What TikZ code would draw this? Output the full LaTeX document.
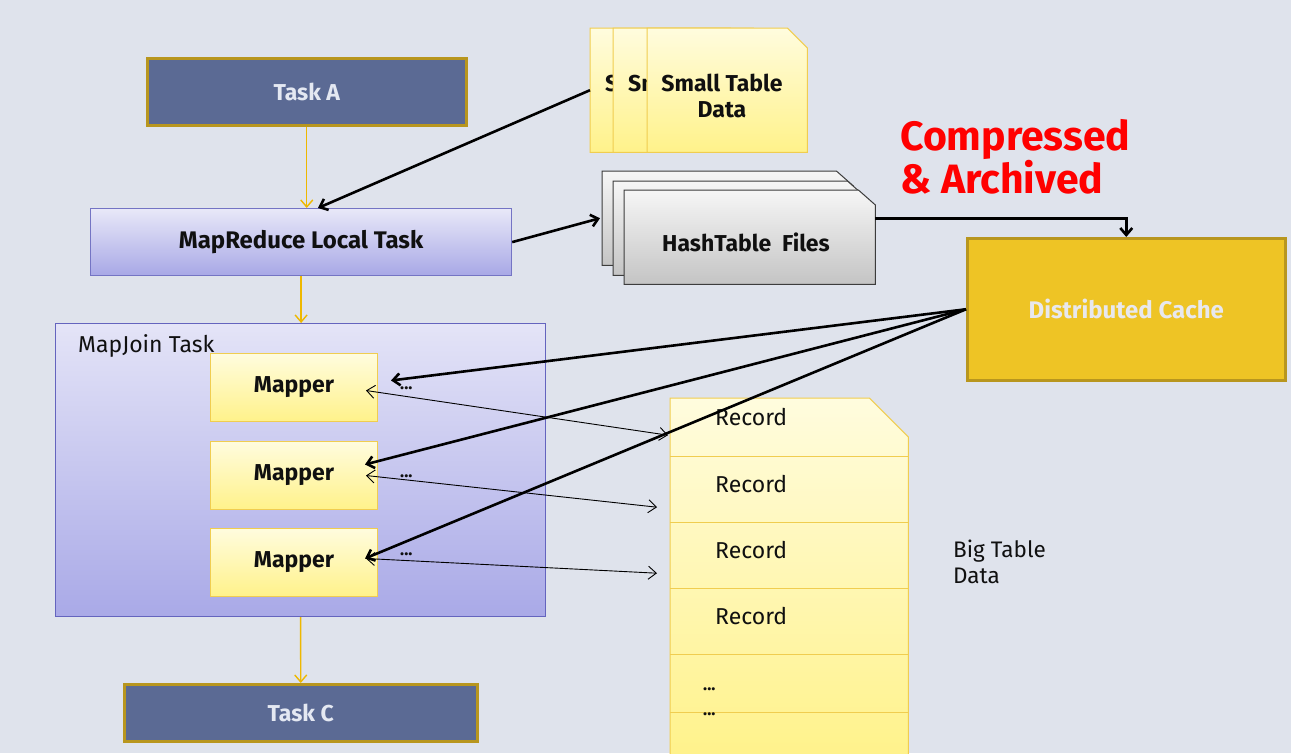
\documentclass[tikz,border=0pt]{standalone}
\usepackage{fontspec}
\setmainfont{Fira Sans}
\usetikzlibrary{arrows.meta,calc}
\definecolor{bgc}{RGB}{223,227,236}
\definecolor{taskfill}{RGB}{91,106,148}
\definecolor{goldb}{RGB}{184,150,30}
\definecolor{tasktxt}{RGB}{228,232,242}
\definecolor{mrtop}{RGB}{232,232,248}
\definecolor{mrbot}{RGB}{168,168,230}
\definecolor{mrline}{RGB}{116,116,196}
\definecolor{mjtop}{RGB}{228,228,247}
\definecolor{mjbot}{RGB}{169,169,231}
\definecolor{mjline}{RGB}{100,100,190}
\definecolor{ytop}{RGB}{255,252,222}
\definecolor{ybot}{RGB}{255,242,138}
\definecolor{yline}{RGB}{240,205,80}
\definecolor{arrowy}{RGB}{238,184,0}
\definecolor{dcfill}{RGB}{238,196,37}
\definecolor{dctxt}{RGB}{232,232,238}
\definecolor{gtop}{RGB}{246,246,246}
\definecolor{gbot}{RGB}{196,196,196}
\definecolor{gline}{RGB}{60,60,60}
\definecolor{redt}{RGB}{255,0,0}
\definecolor{blk}{RGB}{16,16,16}
\newcommand\txtb{\fontsize{23}{26}\selectfont\bfseries}
\newcommand\txtbb{\fontsize{24}{27}\selectfont\bfseries}
\newcommand\txtr{\fontsize{23}{26}\selectfont}
\newcommand\txtd{\fontsize{17}{20}\selectfont\bfseries}
\begin{document}
\begin{tikzpicture}[x=1pt,y=-1pt,
  box/.style={inner sep=0pt, anchor=north west},
  taskbox/.style={box, draw=goldb, line width=2.5pt, fill=taskfill, text=tasktxt, font=\txtb},
  mapbox/.style={box, draw=yline, line width=1pt, top color=ytop, bottom color=ybot, minimum width=167pt, minimum height=68pt, font=\txtb, text=blk},
  ghost/.style={box, minimum width=#1},
  yarrow/.style={draw=arrowy, line width=1.4pt, -{Straight Barb[length=7pt,width=12pt]}},
  barrow/.style={draw=black, line width=2.6pt, -{Straight Barb[length=7pt,width=12pt]}},
  tarrow/.style={draw=black, line width=0.9pt, {Straight Barb[length=8pt,width=13pt]}-{Straight Barb[length=8pt,width=13pt]}},
  smallpage/.style={draw=yline, line width=1pt, top color=ytop, bottom color=ybot},
  hashpage/.style={draw=gline, line width=1pt, top color=gtop, bottom color=gbot},
  lbl/.style={inner sep=0pt, text=blk}
]
\useasboundingbox (0,0) rectangle (1291,753);
\fill[bgc] (0,0) rectangle (1291,753);

% left column
\node[taskbox, minimum width=319pt, minimum height=67pt] (ta) at (146,57) {Task A};
\node[box, draw=mrline, line width=1.2pt, top color=mrtop, bottom color=mrbot,
      minimum width=421pt, minimum height=67pt, font=\txtbb, text=blk] (mr) at (90,208) {MapReduce Local Task};
\node[box, draw=mjline, line width=1.2pt, top color=mjtop, bottom color=mjbot,
      minimum width=490pt, minimum height=293pt] (mj) at (55,323) {};
\node[lbl, anchor=base west, font=\txtr] (mjl) at (78,352) {MapJoin Task};
\node[mapbox] (m1) at (210,353) {Mapper};
\node[mapbox] (m2) at (210,441) {Mapper};
\node[mapbox] (m3) at (210,528) {Mapper};
\node[lbl, anchor=base west, font=\txtd] (d1) at (400,389) {...};
\node[lbl, anchor=base west, font=\txtd] (d2) at (400,477) {...};
\node[lbl, anchor=base west, font=\txtd] (d3) at (400,555) {...};
\node[taskbox, minimum width=353pt, minimum height=57pt] (tc) at (123,683) {Task C};

\draw[yarrow] (ta.south) -- (ta.south |- mr.north);
\draw[yarrow] (mr.south) -- (mr.south |- mj.north);
\draw[yarrow] (mj.south) -- (tc.north);

% small table data pages
\foreach \px/\nm/\txt in {590/s1/S,613/s2/Sm}{
  \node[box, minimum width=160pt, minimum height=124pt] (\nm) at (\px,28) {};
  \path[smallpage] (\nm.south west) -- (\nm.north west) -- ($(\nm.north east)+(-20,0)$)
     -- ($(\nm.north east)+(0,20)$) -- (\nm.south east) -- cycle;
  \node[lbl, anchor=base west, font=\txtb] (\nm a) at ($(\nm.north west)+(15,63)$) {\txt};
}
\node[box, minimum width=160pt, minimum height=124pt] (s3) at (647,28) {};
\path[smallpage] (s3.south west) -- (s3.north west) -- ($(s3.north east)+(-20,0)$)
   -- ($(s3.north east)+(0,20)$) -- (s3.south east) -- cycle;
\node[lbl, anchor=base, font=\txtb] (s3a) at ($(s3.north west)+(75,63)$) {Small Table};
\node[lbl, anchor=base, font=\txtb] (s3b) at ($(s3.north west)+(75,89)$) {Data};

% hashtable pages
\foreach \px/\py/\nm in {602/171/h1,613/181/h2,624/190/h3}{
  \node[box, minimum width=251pt, minimum height=94pt] (\nm) at (\px,\py) {};
  \path[hashpage] (\nm.south west) -- (\nm.north west) -- ($(\nm.north east)+(-17,0)$)
     -- ($(\nm.north east)+(0,15)$) -- (\nm.south east) -- cycle;
}
\node[lbl, font=\txtb] (ht) at (746,242) {HashTable\ \ Files};

% compressed & archived
\node[lbl, anchor=base west, font=\fontsize{41}{43}\selectfont\bfseries, text=redt] (ca1) at (900,150) {Compressed};
\node[lbl, anchor=base west, font=\fontsize{41}{43}\selectfont\bfseries, text=redt] (ca2) at (900,193) {\& Archived};

% distributed cache
\node[box, draw=goldb, line width=2.5pt, fill=dcfill, minimum width=318pt, minimum height=142pt,
      font=\txtbb, text=dctxt] (dc) at (966,237) {Distributed Cache};

% big table
\node[ghost=238pt, minimum height=58pt] (r1) at (670,398) {};
\node[ghost=238pt, minimum height=66pt] (r2) at (670,456) {};
\node[ghost=238pt, minimum height=66pt] (r3) at (670,522) {};
\node[ghost=238pt, minimum height=66pt] (r4) at (670,588) {};
\node[ghost=238pt, minimum height=58pt] (r5) at (670,654) {};
\node[ghost=238pt, minimum height=48pt] (r6) at (670,712) {};
\path[draw=yline, line width=1pt, top color=ytop, bottom color=ybot]
  (r6.south west) -- (r1.north west) -- ($(r1.north east)+(-39,0)$) -- ($(r1.north east)+(0,39)$)
  -- (r6.south east) -- cycle;
\foreach \r in {r1,r2,r3,r4,r5}{
  \draw[yline, line width=1pt] (\r.south west) -- (\r.south east);
}
\node[lbl, anchor=base west, font=\txtr] (t1) at (715,425) {Record};
\node[lbl, anchor=base west, font=\txtr] (t2) at (715,492) {Record};
\node[lbl, anchor=base west, font=\txtr] (t3) at (715,558) {Record};
\node[lbl, anchor=base west, font=\txtr] (t4) at (715,624) {Record};
\node[lbl, anchor=base west, font=\txtd] (t5) at (703,690) {...};
\node[lbl, anchor=base west, font=\txtd] (t6) at (703,715) {...};
\node[lbl, anchor=base west, font=\fontsize{22.5}{26}\selectfont] (bt1) at (953,557) {Big Table};
\node[lbl, anchor=base west, font=\fontsize{22.5}{26}\selectfont] (bt2) at (953,583) {Data};

% connectors
\draw[barrow] (s1.west) -- ($(mr.north west)+(228,0)$);
\draw[barrow] (mr.east) -- ($(h1.west)+(-2,0)$);
\draw[barrow] ($(h3.east)+(0,-19)$) -| (dc.north);
\draw[barrow] (dc.west) -- ($(m1.east)+(13,-7)$);
\draw[barrow] (dc.west) -- ($(m2.east)+(-13,-11)$);
\draw[barrow] (dc.west) -- ($(m3.east)+(-13,-4)$);
\draw[tarrow] ($(m1.east)+(-12,3)$) -- ($(r1.west)+(-2,8)$);
\draw[tarrow] ($(m2.east)+(-12,0)$) -- ($(r2.west)+(-13,18)$);
\draw[tarrow] ($(m3.east)+(-12,-4)$) -- ($(r3.west)+(-13,18)$);
\end{tikzpicture}
\end{document}
